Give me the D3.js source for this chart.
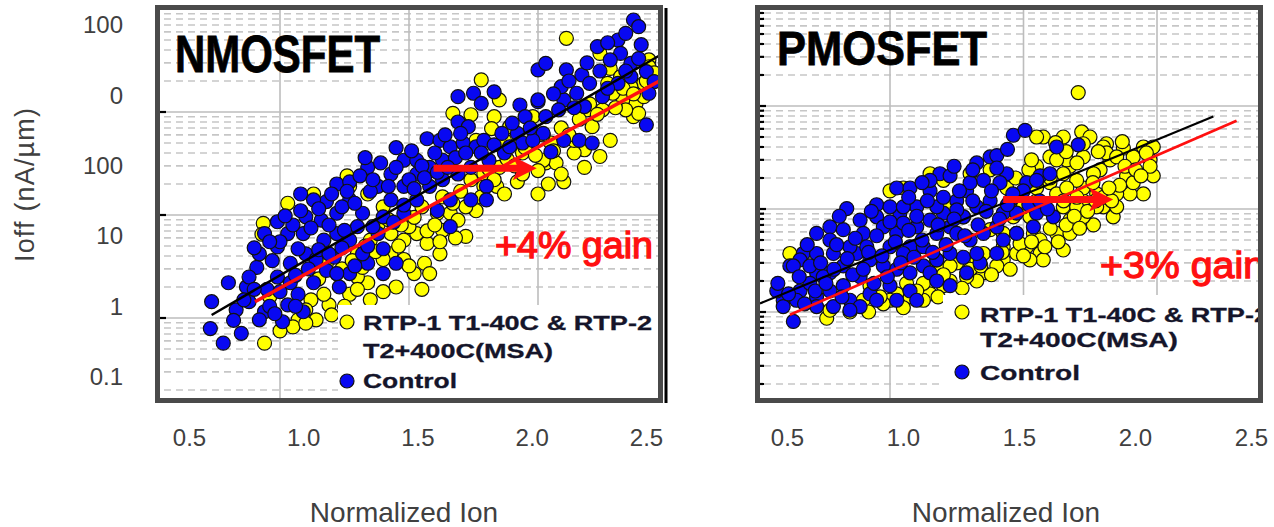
<!DOCTYPE html>
<html><head><meta charset="utf-8">
<script src="https://cdn.jsdelivr.net/npm/d3@7"></script>
<style>
body{margin:0;background:#fff;}
text{font-family:"Liberation Sans",Arial,sans-serif;}
</style>
</head><body>
<svg id="c" width="1274" height="527"></svg>
<script>
// ---------- data ----------
const xTickValues = [0.5, 1.0, 1.5, 2.0, 2.5];
const yTickValues = [0.1, 1, 10, 100, 1000, 10000];
const yTickLabels = ["0.1", "1", "10", "100", "0", "100"];
const innerGridX = [1.0, 1.5, 2.0];
const innerDecades = [1, 10, 100, 1000];
const minorDecades = [0.1, 1, 10, 100];
const minorSteps = [2, 3, 4, 5, 6, 7, 8, 9];
const seriesNames = ["RTP-1 T1-40C & RTP-2", "T2+400C(MSA)", "Control"];
const panelTitles = ["NMOSFET", "PMOSFET"];
const gainLabels = ["+4% gain", "+3% gain"];
const axisTitleX = "Normalized Ion";
const axisTitleY = "Ioff (nA/\u00b5m)";

// NMOSFET: [normalized Ion, Ioff]
const nmosMSA = [[0.94,0.57],[0.935,8.3],[0.93,6.5],[1.03,13],[1.13,16],[1.26,24],[1.19,1.34],[1.20,1.07],[1.14,0.96],[1.12,1.5],[1.07,0.96],
[1.34,2.2],[1.30,2.5],[1.27,1.7],[1.32,3.1],[1.43,4.2],[1.48,3.7],[1.53,6.6],[1.56,3.4],[1.57,5.3],[1.62,4.2],[1.63,7.1],[1.72,6.2],
[1.76,11],[1.72,12],[1.79,19],[1.84,19],[1.87,16],[1.92,21],[2.00,16],[2.04,20],[2.10,21],[2.03,32],[2.07,32],[2.18,43],[2.24,37],
[2.14,40],[2.05,50],[2.19,105],[2.25,105],[2.33,131],[2.38,121],[2.41,190],[2.43,320],[2.37,90],[2.39,97],[1.83,90],[1.82,69],
[1.74,94],[1.67,97],[1.78,205],[1.85,131],[2.11,519],[2.24,371],[2.28,265],[2.32,220],[2.27,190],[2.29,152],[1.76,53],[2.02,34],
[2.14,53],[2.21,72],[1.94,40],[1.85,29],[1.61,10.4],[1.66,10.4],[1.69,8.9],[1.50,7.7],[1.43,6.6],[1.35,5.7],[1.30,4.2],[1.22,2.7],
[1.17,1.7],[1.05,0.82],[1.10,0.89],[0.96,1.6],[1.27,19],[1.34,16],[1.40,12],[1.48,5.7],[1.58,2.7],[1.52,2.7],[1.40,3.7],[1.35,1.5],
[1.45,2.0],[1.79,25],[1.94,25],[2.00,27],[2.09,25],[2.18,29],[2.28,53],[2.34,105],[2.41,141],[2.36,176],[2.43,275],[1.87,53],
[1.89,72],[1.98,90],
[1.15,2.4],[1.18,3.4],[1.24,3.0],[1.28,3.6],[1.33,5.0],[1.37,4.4],[1.38,8.0],[1.42,9.0],[1.46,5.0],[1.47,8.0],[1.52,9.5],[1.55,12],
[1.57,7.0],[1.60,8.0],[1.63,15],[1.67,13],[1.70,17],[1.74,22],[1.78,15],[1.81,28],[1.83,22],[1.88,35],[1.91,30],[1.95,45],[1.99,38],
[2.02,60],[2.06,42],[2.09,70],[2.12,60],[2.16,85],[2.20,120],[2.23,95],[2.30,110],[2.33,170],[2.37,150],[2.42,200],[2.45,240],
[1.10,1.2],[1.25,1.3],[1.30,1.9],[1.40,1.8],[1.50,3.2],[1.62,5.5],[1.68,6.0],[1.00,0.75],[1.55,1.9]];
const nmosControl = [[0.735,1.44],[0.73,0.79],[0.78,0.57],[0.85,0.71],[0.80,2.2],[0.87,2.0],[0.91,3.1],[0.88,1.44],[0.94,1.15],
[1.01,0.92],[1.03,1.34],[1.09,1.15],[0.95,1.9],[0.99,2.5],[1.04,3.4],[1.10,4.2],[1.07,1.7],[1.13,2.2],[1.18,2.9],[1.23,2.0],[1.27,2.7],
[1.21,3.9],[1.17,5.7],[1.09,6.6],[0.94,6.6],[0.99,8.6],[1.03,6.6],[1.07,4.7],[1.10,9.6],[1.16,8.9],[1.22,10.4],[1.18,13.5],[1.13,14],
[1.22,20],[1.27,21],[1.34,29],[1.39,32],[1.43,25],[1.48,34],[1.53,34],[1.57,55],[1.62,53],[1.66,46],[1.71,50],[1.76,46],[1.79,53],
[1.69,141],[1.75,152],[1.83,157],[1.78,121],[1.69,80],[1.73,72],[1.93,117],[2.00,126],[2.00,256],[2.03,297],[2.11,256],[2.17,229],
[2.20,190],[2.10,131],[2.08,105],[2.18,113],[2.23,431],[2.31,500],[2.34,580],[2.37,782],[2.39,673],[2.32,371],[2.28,320],[2.36,297],
[2.42,247],[2.45,197],[2.43,152],[2.42,75],[2.02,62],[1.92,62],[1.94,50],[2.05,41],[2.10,53],[2.16,53],[2.21,50],[1.87,40],[1.80,19],
[1.74,14],[1.66,7.7],[1.45,3.4],[1.40,2.7],[1.34,3.4],[1.27,5.7],[1.22,6.6],[1.32,4.2],[1.40,4.7],[1.38,6.6],[1.30,7.7],[1.25,7.1],
[1.27,14],[1.32,10.4],[1.38,19],[1.43,14],[1.48,19],[1.53,25],[1.58,29],[1.63,34],[1.48,10.4],[1.53,14],[1.58,19],[1.63,22],[1.69,25],
[1.74,29],[1.81,34],[1.89,46],[1.98,53],[2.00,131],[2.09,176],[2.15,152],[2.25,141],[2.31,190],[2.36,220],[1.80,14],[1.04,2.2],
[0.83,1.2],[0.92,0.96],[1.14,3.7],[0.99,4.9],[0.92,4.2],[1.61,11],[1.40,9.6],[1.22,2.7],[0.88,2.5],[1.66,14],
[0.97,3.6],[1.00,5.5],[1.05,8.0],[1.08,11],[1.12,7.5],[1.15,11.5],[1.19,8.0],[1.24,12],[1.26,17],[1.29,13],[1.31,24],[1.35,17],
[1.36,22],[1.42,19],[1.45,29],[1.50,22],[1.51,42],[1.55,30],[1.60,40],[1.64,60],[1.68,36],[1.70,62],[1.72,40],[1.78,40],[1.83,48],
[1.86,62],[1.90,78],[1.95,90],[1.97,70],[2.03,90],[2.06,150],[2.12,200],[2.14,110],[2.19,300],[2.24,250],[2.27,170],[2.34,250],
[2.39,330],[2.40,450],[2.27,470],[0.86,1.5],[0.90,1.9],[0.96,1.3],[1.00,1.8],[1.06,2.6],[1.11,3.0],[1.15,4.6],[1.19,4.2],[1.24,4.8],
[1.29,3.2],[1.34,5.0],[1.36,7.7],[1.44,8.5],[1.48,12.5],[1.52,18],[1.56,23],[1.61,26],[1.65,29],[0.82,0.95],[0.98,1.1],[1.06,1.3],
[0.90,4.8],[0.96,5.5],[1.02,9.8],[1.08,16],[1.20,16],[1.33,36],[1.45,45]];
const nmosControlFit = [[0.735,1.07],[2.5,390]];
const nmosMSAFit = [[0.903,1.44],[2.5,220]];
const nmosShift = [[1.595,28.4],[1.995,28.4]];

// PMOSFET: [normalized Ion, Ioff]
const pmosMSA = [[1.705,135],[1.649,50],[1.718,56],[1.749,50],[1.811,43],[1.874,39],[1.949,40],[1.974,30],[1.986,21],[1.949,14],
[1.899,14],[1.886,21],[1.849,14],[1.836,8.4],[1.762,7.0],[1.674,7.8],[1.649,10.5],[1.724,12],[1.774,14],[1.724,16],[1.674,26],
[1.787,24],[1.724,32],[1.662,30],[1.599,32],[1.549,26],[1.574,50],[1.549,50],[1.599,18],[1.624,14],[1.549,12],[1.524,8.4],[1.537,5.8],
[1.474,5.8],[1.512,4.3],[1.562,3.7],[1.649,4.0],[1.574,3.2],[1.524,3.2],[1.474,3.7],[1.424,3.2],[1.400,2.8],[1.350,2.4],[1.325,2.0],
[1.287,2.2],[1.225,2.0],[1.200,1.8],[1.150,1.5],[1.125,1.3],[1.075,1.4],[1.025,1.5],[1.000,1.3],[0.975,1.2],[0.963,1.4],[0.763,0.87],
[0.775,1.04],[0.625,3.7],[1.000,15],[1.050,16],[1.150,22],[1.200,19],[1.275,8.4],[1.375,6.3],[1.424,5.8],[1.462,8.4],[1.474,12],
[1.437,16],[1.375,24],[1.300,22],[1.225,10.5],[1.125,1.9],[1.175,2.8],[1.250,3.0],[1.325,3.2],[1.350,3.7],[1.424,4.3],[1.487,4.6],
[1.562,5.0],[1.624,5.8],[1.674,5.8],[1.724,8.4],[1.799,10.5],[1.849,10.5],[1.911,18],[1.824,30],[1.911,32],[1.974,26],[1.986,40],
[1.799,40],[1.724,43],[1.811,35],[1.849,32],[1.762,22],[1.699,19],[1.649,22],[1.624,30],[1.574,10.5],[1.499,10.5],[1.549,16],
[1.662,16],[1.774,10.5],[1.699,10.5],[0.900,1.3],[0.925,1.8],[1.225,2.8],[1.175,3.2],[1.062,1.9],
[0.85,1.0],[0.92,1.0],[1.05,1.1],[1.10,1.6],[1.18,1.4],[1.20,2.3],[1.27,1.7],[1.30,2.6],[1.34,2.8],[1.38,2.3],[1.42,3.8],[1.45,2.6],
[1.50,3.5],[1.53,4.8],[1.58,4.3],[1.60,6.5],[1.63,4.8],[1.66,7.0],[1.69,8.5],[1.71,6.5],[1.74,9.5],[1.77,12],[1.80,13],[1.83,12],
[1.86,17],[1.88,26],[1.92,24],[1.94,21],[1.96,35],[1.87,45],[1.78,36],[1.70,28],[1.66,36],[1.62,44],[1.76,18],[1.82,16],[1.60,20],
[1.52,24],[1.47,20],[1.53,30],[1.70,13],[1.65,12]];
const pmosControl = [[0.638,0.81],[0.600,1.3],[0.576,1.6],[0.625,2.8],[0.675,3.7],[0.725,5.8],[0.775,6.7],[0.838,10.1],[0.888,7.8],
[0.950,11],[1.025,16],[1.075,16],[1.187,22],[1.225,21],[1.325,28],[1.375,32],[1.400,33],[1.462,52],[1.506,58],[1.624,40],[1.705,42],
[1.562,21],[1.512,18],[1.437,22],[1.412,18],[1.350,19],[1.287,15],[1.250,12],[1.150,15],[1.100,10.5],[1.037,9.1],[1.000,10.5],
[0.950,8.4],[0.900,5.8],[0.825,6.3],[0.775,5.0],[0.725,3.7],[0.663,3.2],[0.638,2.8],[0.663,1.6],[0.725,1.4],[0.775,1.6],[0.850,1.3],
[0.888,1.13],[0.925,1.5],[0.850,1.04],[0.788,1.13],[0.725,1.13],[0.600,1.13],[0.650,1.3],[0.975,6.7],[1.025,5.8],[1.075,4.3],
[1.125,4.3],[1.175,5.8],[1.225,6.7],[1.275,8.4],[1.325,10.5],[1.375,12],[1.424,9.1],[1.474,9.1],[1.549,9.1],[1.612,8.4],[1.537,6.7],
[1.474,5.8],[1.424,5.0],[1.400,3.7],[1.337,3.0],[1.275,3.4],[1.225,3.7],[1.175,3.2],[1.125,2.8],[1.075,2.4],[1.025,2.6],[0.975,2.8],
[0.925,3.2],[0.875,3.7],[0.825,2.8],[0.775,2.4],[0.725,2.4],[1.000,1.8],[1.075,1.6],[1.100,1.3],[1.025,1.3],[0.950,1.3],[0.825,1.8],
[0.888,2.2],[1.050,3.7],[1.150,2.4],[1.175,2.0],[1.225,1.8],[1.287,2.4],[1.325,3.7],[1.350,5.8],[1.400,6.7],[1.449,12],[1.499,15],
[1.549,19],[1.599,22],[1.250,9.8],[1.200,9.1],[1.150,7.8],[1.100,6.7],[1.050,7.3],[0.850,4.3],[0.913,4.3],[1.000,4.3],[0.788,3.7],
[0.700,1.9],[0.750,2.2],[1.250,5.8],[1.300,5.0],[1.150,19],[1.175,10.5],[1.300,18],
[0.58,1.9],[0.62,1.5],[0.66,2.2],[0.68,1.2],[0.70,2.8],[0.72,1.6],[0.74,3.0],[0.76,1.9],[0.79,2.6],[0.80,4.5],[0.82,1.4],[0.84,3.3],
[0.86,2.3],[0.87,5.2],[0.90,2.6],[0.92,3.8],[0.94,1.9],[0.95,5.5],[0.97,3.5],[0.99,2.2],[1.00,7.5],[1.02,4.8],[1.04,3.0],[1.05,10.5],
[1.07,6.2],[1.09,3.4],[1.10,8.5],[1.12,5.0],[1.14,12],[1.16,3.8],[1.18,7.0],[1.20,13],[1.21,4.5],[1.24,8.0],[1.26,15],[1.28,5.5],
[1.31,12],[1.33,7.0],[1.36,9.5],[1.38,15],[1.41,8.0],[1.44,11],[1.46,14],[1.52,11],[1.56,12],[1.59,10],[0.69,4.5],[0.81,8.5],
[0.93,9.5],[1.07,13],[1.12,18],[1.24,26],[1.31,24],[1.44,38],[1.40,25]];
const pmosControlFit = [[0.513,1.21],[2.211,79]];
const pmosMSAFit = [[0.625,0.94],[2.298,72]];
const pmosShift = [[1.424,12.4],[1.836,12.4]];

// ---------- drawing ----------
const svg = d3.select("#c");
const defs = svg.append("defs");
const YELLOW = "#ffff00", BLUE = "#0808f2", RED = "#ff1010", FRAME = "#4a4a4a", LABEL = "#404040";

function drawPanel(o) {
  const g = svg.append("g");
  const [ix0, iy0, ix1, iy1] = o.inner;
  defs.append("clipPath").attr("id", o.id).append("rect")
    .attr("x", ix0).attr("y", iy0).attr("width", ix1 - ix0).attr("height", iy1 - iy0);
  const x = d3.scaleLinear().domain([1, 2]).range(o.xRange);
  const y = d3.scaleLog().domain([1, 1000]).range(o.yRange);
  const c = g.append("g").attr("clip-path", `url(#${o.id})`);
  c.append("rect").attr("x", ix0).attr("y", iy0).attr("width", ix1 - ix0).attr("height", iy1 - iy0).attr("fill", "#fff");

  const minors = [];
  minorDecades.forEach(d => minorSteps.forEach(k => minors.push(d * k)));
  c.selectAll("line.mn").data(minors).join("line").attr("class", "mn")
    .attr("x1", ix0 + 4).attr("x2", ix1).attr("y1", d => y(d)).attr("y2", d => y(d))
    .attr("stroke", "#c6c6c6").attr("stroke-width", 1.6).attr("stroke-dasharray", "7,5");
  c.selectAll("line.mj").data(innerDecades).join("line").attr("class", "mj")
    .attr("x1", ix0).attr("x2", ix1).attr("y1", d => y(d)).attr("y2", d => y(d))
    .attr("stroke", "#bdbdbd").attr("stroke-width", 1.6);
  c.selectAll("line.vx").data(innerGridX).join("line").attr("class", "vx")
    .attr("x1", d => x(d)).attr("x2", d => x(d)).attr("y1", iy0).attr("y2", iy1)
    .attr("stroke", "#bdbdbd").attr("stroke-width", 1.6);

  const drawPts = (data, fill) => c.append("g").selectAll("circle").data(data).join("circle")
    .attr("cx", d => x(d[0])).attr("cy", d => y(d[1])).attr("r", 7)
    .attr("fill", fill).attr("stroke", "#111").attr("stroke-width", 1.2);
  drawPts(o.msa, YELLOW);
  drawPts(o.control, BLUE);

  const line = d3.line().x(d => x(d[0])).y(d => y(d[1]));
  c.append("path").attr("d", line(o.controlFit)).attr("fill", "none").attr("stroke", "#000").attr("stroke-width", o.blackW);
  c.append("path").attr("d", line(o.msaFit)).attr("fill", "none").attr("stroke", RED).attr("stroke-width", o.redW);

  // shift arrow
  const ax0 = x(o.shift[0][0]), ax1 = x(o.shift[1][0]), ay = y(o.shift[0][1]);
  c.append("path").attr("fill", RED)
    .attr("d", `M${ax0},${ay - 3.5}L${ax1 - 20},${ay - 3.5}L${ax1 - 24},${ay - 12}L${ax1},${ay}L${ax1 - 24},${ay + 12}L${ax1 - 20},${ay + 3.5}L${ax0},${ay + 3.5}Z`);

  // gain text
  c.append("text").attr("x", o.gainPos[0]).attr("y", o.gainPos[1]).text(o.gain)
    .attr("font-size", o.gainSize).attr("fill", RED).attr("stroke", RED).attr("stroke-width", 1.3)
    .attr("textLength", o.gainLen).attr("lengthAdjust", "spacingAndGlyphs");

  // panel title
  c.append("text").attr("x", o.titlePos[0]).attr("y", o.titlePos[1]).text(o.title)
    .attr("font-size", o.titleSize).attr("font-weight", "bold").attr("fill", "#000").attr("stroke", "#000").attr("stroke-width", 0.8)
    .attr("textLength", o.titleLen).attr("lengthAdjust", "spacingAndGlyphs");

  // legend
  const lb = o.legendBox;
  c.append("rect").attr("x", lb[0]).attr("y", lb[1]).attr("width", lb[2] - lb[0]).attr("height", lb[3] - lb[1]).attr("fill", "#fff");
  const lg = c.append("g");
  lg.append("circle").attr("cx", o.legMarkX).attr("cy", o.legMarkY[0]).attr("r", 7).attr("fill", YELLOW).attr("stroke", "#111").attr("stroke-width", 1.2);
  lg.append("circle").attr("cx", o.legMarkX).attr("cy", o.legMarkY[1]).attr("r", 7).attr("fill", BLUE).attr("stroke", "#111").attr("stroke-width", 1.2);
  seriesNames.forEach((s, i) => {
    lg.append("text").attr("x", o.legTextX).attr("y", o.legTextY[i]).text(s)
      .attr("font-size", 21).attr("font-weight", "bold").attr("fill", "#15152a")
      .attr("stroke", "#15152a").attr("stroke-width", 0.3)
      .attr("textLength", o.legLens[i]).attr("lengthAdjust", "spacingAndGlyphs");
  });

  // small ticks at the inner left edge
  const tickVals = o.minorTicks ? innerDecades.concat(minors) : innerDecades;
  g.selectAll("line.tk").data(tickVals.filter(v => y(v) > iy0 && y(v) < iy1)).join("line").attr("class", "tk")
    .attr("x1", ix0).attr("x2", d => ix0 + (innerDecades.includes(d) ? 6 : 4))
    .attr("y1", d => y(d)).attr("y2", d => y(d)).attr("stroke", "#000").attr("stroke-width", 2.2);

  // frame
  const f = o.frame;
  g.append("rect").attr("x", f[0]).attr("y", f[1]).attr("width", f[2] - f[0]).attr("height", f[3] - f[1])
    .attr("fill", "none").attr("stroke", FRAME).attr("stroke-width", 5);
}

drawPanel({
  id: "clipN", inner: [160, 10, 658, 398], frame: [157.5, 7.5, 660.5, 400.5],
  xRange: [280, 538], yRange: [318, 9],
  msa: nmosMSA, control: nmosControl, controlFit: nmosControlFit, msaFit: nmosMSAFit, shift: nmosShift,
  blackW: 2.5, redW: 3.5,
  gain: gainLabels[0], gainPos: [495, 258], gainSize: 36, gainLen: 158,
  title: panelTitles[0], titlePos: [175, 72], titleSize: 51, titleLen: 205,
  legendBox: [338, 305, 658, 398], legMarkX: 347, legMarkY: [322, 381], legTextX: 363, legTextY: [330, 358, 388],
  legLens: [289, 190, 94], minorTicks: false
});
drawPanel({
  id: "clipP", inner: [760, 10, 1258, 398], frame: [757.5, 7.5, 1260.5, 400.5],
  xRange: [890, 1157], yRange: [312, 3],
  msa: pmosMSA, control: pmosControl, controlFit: pmosControlFit, msaFit: pmosMSAFit, shift: pmosShift,
  blackW: 2.2, redW: 2.6,
  gain: gainLabels[1], gainPos: [1100, 278], gainSize: 37, gainLen: 165,
  title: panelTitles[1], titlePos: [777, 65], titleSize: 49, titleLen: 210,
  legendBox: [943, 295, 1258, 398], legMarkX: 962, legMarkY: [312, 372], legTextX: 980, legTextY: [322, 347, 380],
  legLens: [289, 198, 100], minorTicks: true
});

// extra black edge at right of left panel
svg.append("line").attr("x1", 666).attr("x2", 666).attr("y1", 8).attr("y2", 403).attr("stroke", "#000").attr("stroke-width", 3);

// ---------- outer axes ----------
const yOuter = d3.scaleLog().domain([0.1, 10000]).range([377, 25]);
const yAx = svg.append("g").attr("transform", "translate(128,0)")
  .call(d3.axisLeft(yOuter).tickValues(yTickValues).tickFormat((d, i) => yTickLabels[i]).tickSize(0).tickPadding(5));
const xLeft = d3.scaleLinear().domain([0.5, 2.5]).range([189, 646]);
const xRight = d3.scaleLinear().domain([0.5, 2.5]).range([787, 1251]);
const xa1 = svg.append("g").attr("transform", "translate(0,420)")
  .call(d3.axisBottom(xLeft).tickValues(xTickValues).tickFormat(d3.format(".1f")).tickSize(0).tickPadding(9));
const xa2 = svg.append("g").attr("transform", "translate(0,420)")
  .call(d3.axisBottom(xRight).tickValues(xTickValues).tickFormat(d3.format(".1f")).tickSize(0).tickPadding(9));
[yAx, xa1, xa2].forEach(a => {
  a.select(".domain").remove();
  a.selectAll("text").attr("font-size", 24).attr("fill", LABEL).attr("font-family", '"Liberation Sans",Arial,sans-serif');
});

svg.append("text").attr("x", 404).attr("y", 522).attr("text-anchor", "middle").attr("font-size", 28).attr("fill", LABEL).text(axisTitleX);
svg.append("text").attr("x", 1006).attr("y", 522).attr("text-anchor", "middle").attr("font-size", 28).attr("fill", LABEL).text(axisTitleX);
svg.append("text").attr("transform", "translate(34,185) rotate(-90)").attr("text-anchor", "middle")
  .attr("font-size", 27).attr("fill", LABEL).attr("textLength", 154).attr("lengthAdjust", "spacing").text(axisTitleY);
</script>
</body></html>
